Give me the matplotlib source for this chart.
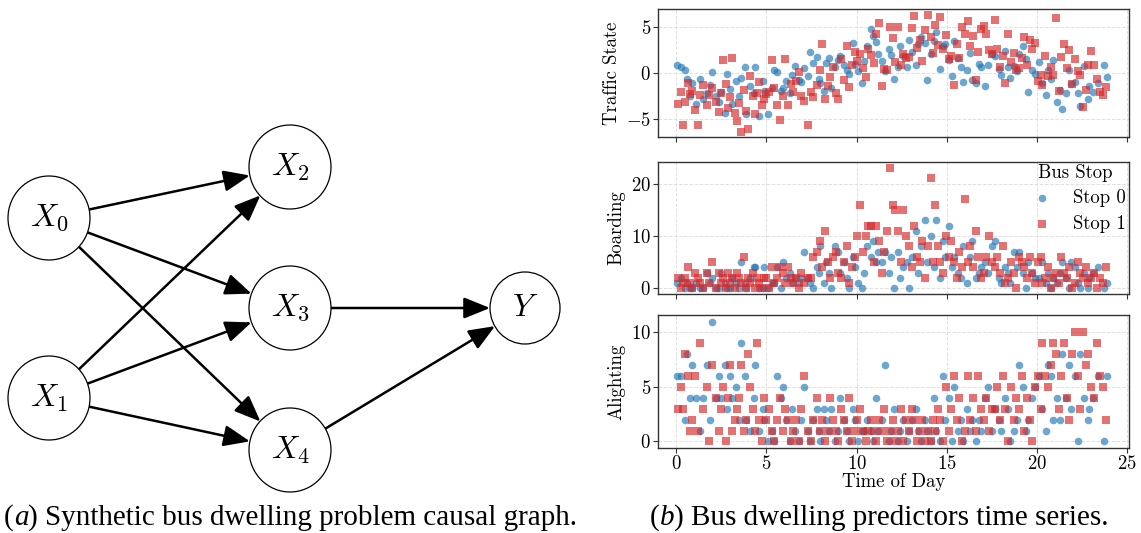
import matplotlib
matplotlib.use("Agg")
import matplotlib.pyplot as plt
from matplotlib.patches import Ellipse, FancyArrowPatch, ArrowStyle

plt.rcParams["font.family"] = "serif"
plt.rcParams["font.serif"] = ["cmr10"]
plt.rcParams["mathtext.fontset"] = "cm"
plt.rcParams["axes.formatter.use_mathtext"] = True

# ---- causal graph (pixel layout) ----
node_names = ["X0", "X1", "X2", "X3", "X4", "Y"]
node_labels = [r"$X_0$", r"$X_1$", r"$X_2$", r"$X_3$", r"$X_4$", r"$Y$"]
edges = [("X0", "X2"), ("X0", "X3"), ("X0", "X4"),
         ("X1", "X2"), ("X1", "X3"), ("X1", "X4"),
         ("X3", "Y"), ("X4", "Y")]

# ---- time series: stop 0 ----
s0_time = [0.05, 0.3, 0.5, 0.6, 0.8, 0.9, 1.1, 1.3, 1.5, 1.7, 1.9, 2.0, 2.2, 2.4,
           2.5, 2.7, 2.8, 3.0, 3.1, 3.3, 3.5, 3.6, 3.8, 3.9, 4.1, 4.3, 4.4, 4.6, 4.8, 4.9,
           5.1, 5.3, 5.4, 5.6, 5.8, 5.9, 6.1, 6.3, 6.4, 6.6, 6.8, 6.9, 7.1, 7.3, 7.4, 7.6, 7.8, 7.9, 8.0, 8.2,
           8.3, 8.5, 8.6, 8.8, 9.0, 9.1, 9.3, 9.5, 9.6, 9.8, 9.9, 10.1, 10.3, 10.4, 10.6, 10.8, 10.9, 11.1,
           11.2, 11.4, 11.6, 11.8, 11.9, 12.1, 12.3, 12.4, 12.6, 12.8, 12.9, 13.1, 13.3, 13.4, 13.6, 13.8, 13.9, 14.1,
           14.3, 14.4, 14.6, 14.8, 14.9, 15.1, 15.3, 15.4, 15.6, 15.8, 15.9, 16.1, 16.3, 16.4, 16.6, 16.8, 16.9, 17.1,
           17.3, 17.5, 17.7, 17.9, 18.0, 18.2, 18.4, 18.5, 18.7, 18.9, 19.0, 19.2, 19.4, 19.5, 19.7, 19.9,
           20.1, 20.3, 20.5, 20.6, 20.8, 20.9, 21.1, 21.3, 21.4, 21.6, 21.8, 21.9, 22.1, 22.3, 22.4, 22.6, 22.8, 22.9, 23.1, 23.4, 23.7, 23.9]
s0_traffic = [0.9, 0.6, 0.3, -0.6, -2.5, -1.1, -3.3, -0.6, -2.8, -2.2, -1.3, 0.1, -2.5, -3.1,
              -2.0, -4.3, -0.1, -1.7, -3.3, -0.9, -2.5, -0.5, 0.6, -4.4, -1.4, -2.2, 0.7, -4.6, -0.9, -1.9,
              -4.4, -1.6, 0.3, 0.1, -1.9, -1.6, -0.9, -2.2, -0.2, 0.8, -0.8, -1.0, 0.5, -0.3, 2.3, 1.1, 1.7, -0.6, -1.1, -1.9,
              1.1, 1.6, -1.6, 0.6, 1.4, 1.8, 0.9, 0.3, -0.1, 3.2, 1.0, 0.2, -1.1, 1.3, 2.9, 4.8, 4.0, 3.3,
              2.1, 1.3, 0.2, 2.6, 1.9, -0.6, 0.6, 2.9, 1.8, 0.6, 3.6, 2.3, 0.9, 3.1, 3.9, 3.2, -0.8, 2.0,
              3.5, 4.4, 0.4, 2.9, 3.1, 1.4, -0.3, 3.5, 1.6, 0.7, -1.0, 0.3, 2.2, -0.8, -1.1, 1.0, 0.7, -1.4,
              0.9, 2.1, 1.8, 0.4, -0.2, 2.4, 0.7, -0.5, 0.8, 0.2, 2.1, 2.9, 1.5, -2.1, 0.3, -0.1,
              1.2, -1.1, -2.4, 0.3, -0.6, 1.4, -3.1, -1.8, -3.9, -2.2, 0.3, -1.2, -1.0, -2.2, -3.6, 0.8, -2.8, -1.4, -2.1, -1.1, 0.9, -0.4]
s0_boarding = [1, 2, 0, 1, 0, 0, 1, 0, 0, 3, 1, 2, 0, 0,
               3, 1, 0, 0, 2, 1, 0, 5, 1, 0, 2, 4, 4, 0, 0, 4,
               0, 1, 1, 4, 0, 5, 2, 3, 1, 2, 1, 2, 7, 2, 1, 0, 4, 3, 8, 1,
               5, 3, 0, 8, 7, 3, 5, 2, 0, 6, 4, 1, 0, 3, 8, 6, 9, 5,
               7, 5, 7, 3, 6, 0, 7, 2, 4, 5, 0, 6, 11, 3, 8, 13, 5, 10,
               4, 13, 2, 9, 6, 12, 4, 6, 3, 2, 8, 1, 6, 9, 2, 3, 4, 5,
               3, 8, 9, 2, 1, 4, 3, 1, 7, 4, 7, 3, 0, 5, 3, 2,
               2, 5, 1, 3, 0, 2, 1, 3, 5, 2, 0, 5, 4, 1, 0, 3, 0, 2, 3, 4, 0, 1]
s0_alighting = [6, 6, 2, 8, 4, 7, 4, 1, 4, 7, 2, 11, 4, 6,
                4, 7, 3, 6, 4, 5, 2, 9, 6, 2, 1, 4, 7, 1, 3, 2,
                0, 1, 0, 6, 4, 5, 2, 0, 3, 1, 0, 2, 5, 1, 0, 2, 3, 1, 0, 3,
                2, 1, 3, 0, 1, 4, 2, 1, 0, 3, 2, 0, 1, 1, 2, 1, 0, 4,
                1, 2, 7, 0, 1, 3, 0, 1, 2, 0, 1, 2, 3, 1, 0, 2, 1, 0,
                4, 1, 0, 6, 2, 4, 0, 5, 1, 2, 0, 3, 1, 2, 0, 2, 1, 4,
                5, 1, 3, 2, 1, 4, 3, 0, 1, 2, 7, 5, 1, 2, 4, 5,
                6, 3, 1, 7, 6, 2, 4, 2, 8, 4, 7, 3, 6, 0, 8, 4, 2, 3, 4, 6, 0, 6]

# ---- time series: stop 1 ----
s1_time = [0.1, 0.25, 0.4, 0.5, 0.65, 0.8, 0.9, 1.05, 1.2, 1.35, 1.5, 1.7, 1.85, 2.0, 2.2, 2.4,
           2.5, 2.6, 2.75, 2.9, 3.0, 3.1, 3.25, 3.4, 3.5, 3.6, 3.75, 3.9, 4.0, 4.1, 4.25, 4.4, 4.5, 4.6, 4.75, 4.9,
           5.0, 5.15, 5.3, 5.45, 5.6, 5.75, 5.9, 6.05, 6.2, 6.35, 6.5, 6.65, 6.8, 6.95, 7.1, 7.3, 7.45, 7.6, 7.8, 7.95,
           8.1, 8.25, 8.4, 8.55, 8.7, 8.85, 9.0, 9.15, 9.3, 9.45, 9.6, 9.75, 9.9, 10.05, 10.2, 10.35, 10.5, 10.65, 10.8, 10.95,
           11.1, 11.25, 11.4, 11.55, 11.7, 11.85, 12.0, 12.15, 12.3, 12.45, 12.6, 12.75, 12.9, 13.05, 13.2, 13.35, 13.5, 13.65, 13.8, 13.95, 14.1, 14.25,
           14.35, 14.5, 14.65, 14.8, 14.95, 15.1, 15.25, 15.4, 15.55, 15.7, 15.85, 16.0, 16.15, 16.3, 16.45, 16.6, 16.75, 16.9, 17.05, 17.2, 17.35, 17.5,
           17.65, 17.8, 17.95, 18.1, 18.25, 18.4, 18.55, 18.7, 18.85, 19.0, 19.15, 19.3, 19.45, 19.6, 19.75, 19.9, 20.05, 20.2,
           20.3, 20.45, 20.6, 20.75, 20.9, 21.05, 21.2, 21.35, 21.5, 21.65, 21.8, 21.95, 22.1, 22.25, 22.4, 22.55, 22.7, 22.85, 23.0, 23.15, 23.3, 23.5, 23.65, 23.8]
s1_traffic = [-3.3, -2.1, -5.6, -3.1, -1.1, -2.3, -1.9, -4.0, -5.6, -2.4, -1.3, -3.5, -2.4, -1.6, -3.1, -4.2,
              -2.2, 1.4, -1.2, -3.8, -2.6, 1.6, -4.3, -5.2, -3.2, -6.4, -1.8, -4.1, -6.0, -0.3, -2.5, -4.4, -2.2, -1.0, -3.5, -2.8,
              -2.3, -2.0, 1.4, -1.6, -3.4, -5.1, -2.5, 1.5, -3.4, -1.2, -2.1, -0.9, 0.1, -2.5, -3.0, -5.6, -2.0, -2.6, -1.3, 0.3,
              3.1, -2.8, -1.4, -0.4, 0.6, -2.2, -2.8, 1.5, -0.7, 2.9, -1.5, 0.9, 2.3, 1.3, 2.1, 0.5, -0.4, 2.6, 1.9, 1.1,
              4.2, 5.4, -1.4, 0.4, 0.3, 5.0, 3.8, 1.2, 5.0, 0.9, 2.0, 1.6, 1.7, 4.9, 6.2, 2.7, 3.6, 1.3, 4.6, 6.3, 3.9, 2.2,
              5.2, 3.0, 6.0, 2.6, 4.1, 1.5, 1.8, -1.3, 3.1, 1.6, 5.0, 4.2, 5.6, 2.9, 4.0, -0.7, 2.3, 4.7, 5.1, 4.2, 2.5, 2.0,
              5.7, 2.6, 0.6, 1.8, -1.1, 4.2, 1.2, 2.2, 0.3, 0.5, 1.6, 3.9, 0.9, 3.6, 2.6, 3.2, -0.9, -0.2,
              -1.3, 1.8, -0.3, 0.6, -0.2, 5.9, -1.9, 1.7, 3.1, 0.5, 2.5, -1.2, 1.5, 0.2, -0.2, -3.7, -1.8, 0.9, 2.4, 0.9, -0.6, -2.0, -2.4, -1.5]
s1_boarding = [2, 0, 1, 2, 4, 1, 0, 3, 2, 1, 0, 3, 1, 5, 0, 3,
               1, 2, 0, 3, 1, 2, 0, 3, 2, 1, 6, 0, 2, 1, 3, 0, 2, 1, 0, 2,
               2, 0, 4, 1, 2, 4, 3, 1, 4, 2, 1, 2, 0, 3, 1, 2, 2, 6, 7, 9,
               4, 11, 5, 2, 6, 7, 3, 2, 5, 8, 1, 4, 6, 10, 16, 7, 10, 12, 12, 5,
               12, 9, 3, 7, 11, 23, 16, 15, 11, 5, 15, 10, 8, 4, 12, 6, 5, 9, 2, 8, 21, 5,
               16, 8, 5, 3, 10, 6, 9, 5, 2, 7, 4, 17, 5, 8, 4, 11, 6, 2, 3, 6, 10, 5,
               4, 6, 3, 8, 1, 2, 5, 3, 0, 6, 5, 4, 2, 6, 3, 1, 5, 6,
               1, 2, 4, 0, 2, 3, 1, 6, 3, 2, 4, 0, 1, 5, 3, 2, 4, 1, 2, 3, 0, 2, 1, 4]
s1_alighting = [3, 5, 3, 8, 6, 1, 2, 6, 1, 9, 3, 5, 0, 7, 4, 1,
                3, 5, 0, 4, 7, 1, 2, 3, 4, 7, 1, 2, 8, 5, 3, 1, 9, 2, 0, 4,
                2, 3, 1, 0, 2, 4, 1, 3, 2, 0, 1, 2, 0, 3, 6, 1, 0, 2, 4, 1,
                2, 0, 1, 4, 2, 1, 0, 3, 2, 1, 4, 0, 1, 2, 3, 1, 0, 1, 2, 1,
                0, 2, 1, 3, 0, 1, 2, 0, 1, 3, 0, 2, 1, 3, 2, 0, 1, 2, 0, 1, 0, 2,
                1, 3, 2, 0, 5, 1, 3, 6, 2, 4, 0, 1, 6, 2, 4, 1, 6, 3, 2, 4, 1, 3,
                3, 5, 2, 6, 3, 0, 5, 2, 4, 3, 6, 1, 4, 2, 0, 5, 6, 3,
                9, 6, 5, 7, 9, 8, 3, 6, 9, 4, 2, 8, 10, 6, 3, 10, 7, 8, 5, 4, 9, 6, 5, 2]

panel_labels = ["Traffic State", "Boarding", "Alighting"]
panel_yticks = [[-5, 0, 5], [0, 10, 20], [0, 5, 10]]
panel_ylims = [(-6.9, 6.9), (-1.15, 24.15), (-0.6, 11.6)]

W, H = 1141, 533
fig = plt.figure(figsize=(W / 100, H / 100), dpi=100)

# left: causal graph drawn in pixel coordinates
ax0 = fig.add_axes([0, 0, 1, 1])
ax0.set_xlim(0, W)
ax0.set_ylim(H, 0)
ax0.axis("off")

pos = {"X0": (49, 218), "X1": (49, 398), "X2": (290, 167),
       "X3": (290, 308), "X4": (290, 450), "Y": (525, 308)}
rad = {"X0": 41, "X1": 41, "X2": 41, "X3": 41, "X4": 41, "Y": 35}

for n, lab in zip(node_names, node_labels):
    x, y = pos[n]
    ax0.add_patch(Ellipse((x, y), 2 * rad[n], 2 * rad[n] + 2, facecolor="white",
                          edgecolor="black", lw=0.9, zorder=3))
    ax0.text(x, y, lab, ha="center", va="center", fontsize=23, zorder=4)

style = ArrowStyle("-|>", head_length=1.6, head_width=0.65)
for a, b in edges:
    arr = FancyArrowPatch(pos[a], pos[b], arrowstyle=style, mutation_scale=10,
                          shrinkA=rad[a] * 0.72, shrinkB=rad[b] * 0.72,
                          color="black", lw=1.8, zorder=2)
    ax0.add_patch(arr)

# captions
cap_font = dict(family="Liberation Serif", fontsize=21)
t = ax0.text(4, 525, "(", va="baseline", ha="left", **cap_font)
t = ax0.annotate("a", xy=(1, 0), xycoords=t, va="bottom", ha="left", style="italic", **cap_font)
ax0.annotate(") Synthetic bus dwelling problem causal graph.", xy=(1, 0), xycoords=t,
             va="bottom", ha="left", **cap_font)
t = ax0.text(650, 525, "(", va="baseline", ha="left", **cap_font)
t = ax0.annotate("b", xy=(1, 0), xycoords=t, va="bottom", ha="left", style="italic", **cap_font)
ax0.annotate(") Bus dwelling predictors time series.", xy=(1, 0), xycoords=t,
             va="bottom", ha="left", **cap_font)

# right: three time-series panels
rects = [[0.5767, 0.743, 0.4128, 0.240],
         [0.5767, 0.448, 0.4128, 0.248],
         [0.5767, 0.1595, 0.4128, 0.2495]]
s0_vals = [s0_traffic, s0_boarding, s0_alighting]
s1_vals = [s1_traffic, s1_boarding, s1_alighting]
blue, red = "#1f77b4", "#d62728"

axes = []
for i, r in enumerate(rects):
    ax = fig.add_axes(r)
    ax.scatter(s0_time, s0_vals[i], s=30, marker="o", color=blue, alpha=0.65,
               linewidths=0, label="Stop 0", zorder=3)
    ax.scatter(s1_time, s1_vals[i], s=27, marker="s", color=red, alpha=0.65,
               linewidths=0, label="Stop 1", zorder=3)
    ax.set_xlim(-1.0, 25.1)
    ax.set_ylim(*panel_ylims[i])
    ax.set_xticks([0, 5, 10, 15, 20, 25])
    ax.set_yticks(panel_yticks[i])
    ax.grid(True, color="#e0e0e0", lw=0.7, ls="--", zorder=0)
    ax.set_axisbelow(True)
    for sp in ax.spines.values():
        sp.set_color("#333333")
        sp.set_linewidth(1.0)
    ax.tick_params(direction="out", length=3.5, width=0.8, color="#333333",
                   labelsize=13.5, pad=1.5)
    ax.set_ylabel(panel_labels[i], fontsize=13.5, labelpad=4)
    if i < 2:
        ax.tick_params(labelbottom=False)
    axes.append(ax)

axes[2].set_xlabel("Time of Day", fontsize=13.5, labelpad=0)

leg = axes[1].legend(title="Bus Stop", loc="upper left", bbox_to_anchor=(0.79, 1.045),
                     borderaxespad=0, frameon=False, fontsize=13.5, title_fontsize=13.5,
                     handlelength=0.5, handletextpad=1.4, labelspacing=0.4,
                     alignment="left")

fig.savefig("out.png", dpi=100)
